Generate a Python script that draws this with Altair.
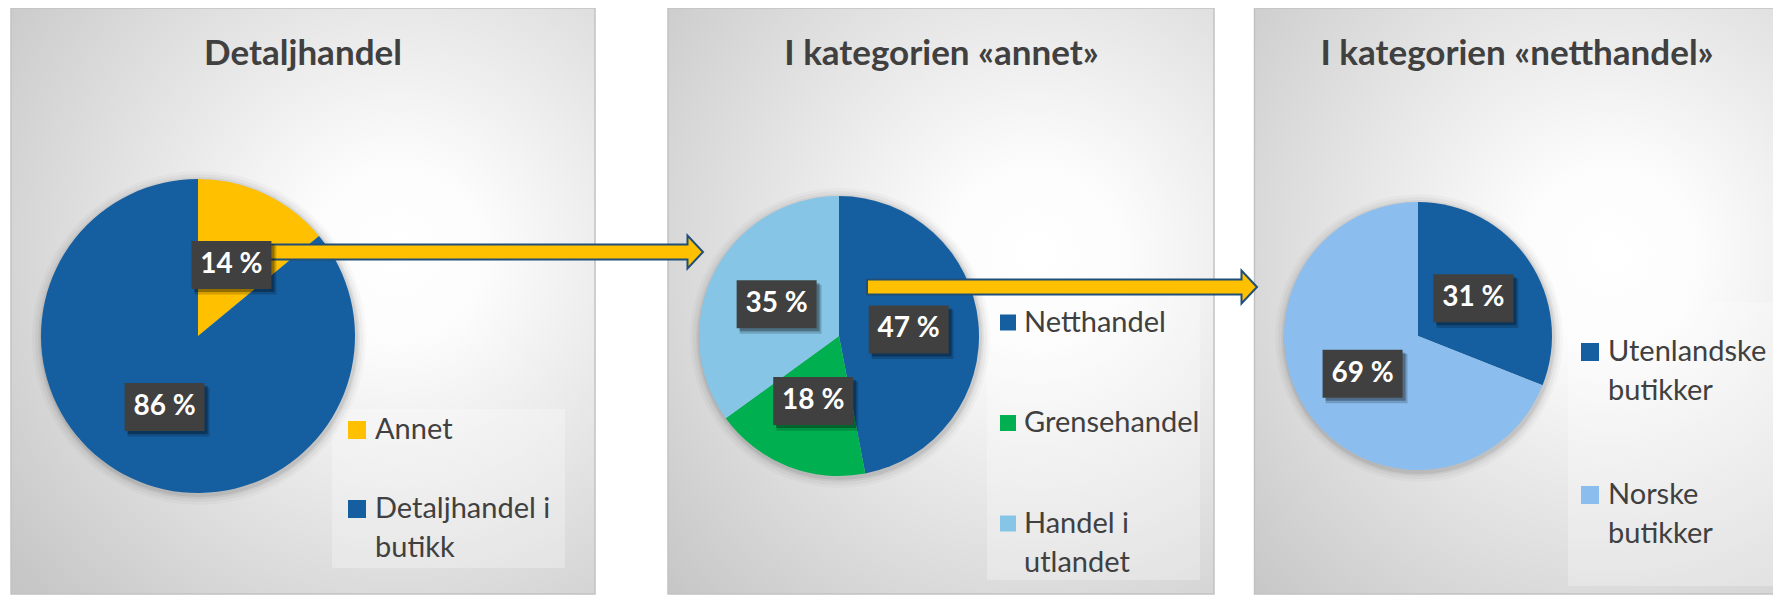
import altair as alt
import pandas as pd

# ---------------- data ----------------
titles = ["Detaljhandel", "I kategorien «annet»", "I kategorien «netthandel»"]

cats1 = ["Annet", "Detaljhandel i butikk"]
vals1 = [14, 86]

cats2 = ["Netthandel", "Grensehandel", "Handel i utlandet"]
vals2 = [47, 18, 35]

cats3 = ["Utenlandske butikker", "Norske butikker"]
vals3 = [31, 69]

# ---------------- styles ----------------
cols1 = ["#FFC000", "#155FA0"]
cols2 = ["#155FA0", "#00B050", "#87C5E6"]
cols3 = ["#155FA0", "#8BBEEE"]

W, H = 1765, 587
FONT = "Lato"
TXT = "#404040"

panels = [
    dict(x0=3, x1=587, cx=190, cy=328, r=157, tx=295, sqx=349, sq=18, ltx=367,
         ly0=422, lgap=79, lbg=(324, 557, 401, 560)),
    dict(x0=660, x1=1206, cx=831, cy=328, r=140, tx=933.5, sqx=1000, sq=16, ltx=1016,
         ly0=314.5, lgap=100.5, lbg=(979, 1192, 284, 572)),
    dict(x0=1246.5, x1=W + 5, cx=1410, cy=328, r=134, tx=1509, sqx=1582, sq=18, ltx=1600,
         ly0=344, lgap=143, lbg=(1560, W, 294, 578)),
]
series = [(cats1, vals1, cols1), (cats2, vals2, cols2), (cats3, vals3, cols3)]

one = alt.Data(values=[{"a": 1}])

grad = alt.RadialGradient(
    gradient="radial",
    stops=[alt.GradientStop(offset=0, color="#ffffff"),
           alt.GradientStop(offset=0.18, color="#fcfcfc"),
           alt.GradientStop(offset=1, color="#c6c6c6")],
    x1=0.66, y1=0.42, r1=0, x2=0.66, y2=0.42, r2=0.85)

BOX = "M -1 -0.6 L 1 -0.6 L 1 0.6 L -1 0.6 Z"
BOXSIZE = 80 ** 2


def wrap(name):
    if len(name) > 12 and " " in name:
        a, b = name.rsplit(" ", 1)
        return a + "\n" + b
    return name


def arrow_path(length, body_half, head_half, head_len):
    s = length / 2.0
    bh = body_half / s
    hh = head_half / s
    hb = 1 - head_len / s
    return (f"M -1 {-bh:.4f} L {hb:.4f} {-bh:.4f} L {hb:.4f} {-hh:.4f} L 1 0 "
            f"L {hb:.4f} {hh:.4f} L {hb:.4f} {bh:.4f} L -1 {bh:.4f} Z")


bg_layers, pie_layers, label_layers, legend_layers = [], [], [], []

for k, (p, (cats, vals, cols)) in enumerate(zip(panels, series)):
    df = pd.DataFrame({"cat": cats, "value": vals, "i": list(range(len(cats))),
                       "label": [wrap(c) for c in cats]})
    cscale = alt.Scale(domain=cats, range=cols)

    # panel background
    bg_layers.append(alt.Chart(one).mark_rect(fill=grad, stroke="#c2c2c2", strokeWidth=1.5).encode(
        x=alt.value(p["x0"]), x2=alt.value(p["x1"]), y=alt.value(0), y2=alt.value(H - 1)))
    lx0, lx1, ly0_, ly1_ = p["lbg"]
    bg_layers.append(alt.Chart(one).mark_rect(fill="white", opacity=0.28).encode(
        x=alt.value(lx0), x2=alt.value(lx1), y=alt.value(ly0_), y2=alt.value(ly1_)))
    # title
    bg_layers.append(alt.Chart(one).mark_text(
        text=titles[k], font=FONT, fontSize=35, fontWeight="bold", color=TXT,
        align="center", baseline="alphabetic").encode(x=alt.value(p["tx"]), y=alt.value(57)))

    # pie shadow (soft glow)
    for d, op in [(10, 0.025), (7, 0.035), (4, 0.05), (2, 0.07)]:
        pie_layers.append(alt.Chart(one).mark_arc(
            theta=0, theta2=6.2832, outerRadius=p["r"] + d, fill="black", opacity=op).encode(
            x=alt.value(p["cx"] + 1), y=alt.value(p["cy"] + 2)))
    # pie
    pie_layers.append(alt.Chart(df).mark_arc(outerRadius=p["r"]).encode(
        theta=alt.Theta("value:Q", stack=True),
        order=alt.Order("i:Q"),
        color=alt.Color("cat:N", scale=cscale, legend=None),
        x=alt.value(p["cx"]), y=alt.value(p["cy"])))

    # data labels
    lab = (alt.Chart(df)
           .transform_joinaggregate(total="sum(value)")
           .transform_window(cum="sum(value)", sort=[alt.SortField("i")], frame=[None, 0])
           .transform_calculate(mid="(datum.cum - datum.value / 2) / datum.total * 2 * PI")
           .transform_calculate(lx=f"{p['cx']} + {0.5 * p['r']} * sin(datum.mid)")
           .transform_calculate(ly=f"{p['cy']} - {0.5 * p['r']} * cos(datum.mid)")
           .transform_calculate(txt="datum.value + ' %'"))
    enc = dict(x=alt.X("lx:Q", scale=None, axis=None), y=alt.Y("ly:Q", scale=None, axis=None))
    label_layers.append(lab.mark_point(shape=BOX, size=BOXSIZE + 300, filled=True, color="black",
                                       opacity=0.18, xOffset=4, yOffset=5).encode(**enc))
    label_layers.append(lab.mark_point(shape=BOX, size=BOXSIZE, filled=True, color="black",
                                       opacity=0.3, xOffset=3, yOffset=3).encode(**enc))
    label_layers.append(lab.mark_point(shape=BOX, size=BOXSIZE, filled=True, color="#404040",
                                       opacity=1).encode(**enc))
    label_layers.append(lab.mark_text(font=FONT, fontSize=28, fontWeight="bold", color="white",
                                      align="center", baseline="middle").encode(text="txt:N", **enc))

    # legend
    leg = alt.Chart(df).transform_calculate(ly=f"{p['ly0']} + {p['lgap']} * datum.i")
    yenc = alt.Y("ly:Q", scale=None, axis=None)
    legend_layers.append(leg.mark_square(size=p["sq"] ** 2, filled=True, opacity=1).encode(
        x=alt.value(p["sqx"]), y=yenc, color=alt.Color("cat:N", scale=cscale, legend=None)))
    legend_layers.append(leg.mark_text(align="left", baseline="middle", font=FONT, fontSize=29,
                                       color=TXT, lineBreak="\n", lineHeight=39).encode(
        x=alt.value(p["ltx"]), y=yenc, text="label:N"))

# arrows between panels
arrows = []
for (xa, xb, yc) in [(260, 695, 244), (859, 1249, 279)]:
    L = xb - xa
    arrows.append(alt.Chart(one).mark_point(
        shape=arrow_path(L, 7.5, 16.5, 15.5), size=L * L, filled=True, fill="#FFC000",
        stroke="#1F4E79", strokeWidth=2, opacity=1).encode(
        x=alt.value((xa + xb) / 2), y=alt.value(yc)))

layers = bg_layers + pie_layers + arrows + label_layers + legend_layers

chart = (alt.layer(*layers)
         .resolve_scale(color="independent", theta="independent")
         .properties(width=W, height=H, padding=0,
                     autosize=alt.AutoSizeParams(type="none"), background="white")
         .configure_view(stroke=None))

chart.save("out.html", embed_options={"renderer": "svg", "actions": False})
